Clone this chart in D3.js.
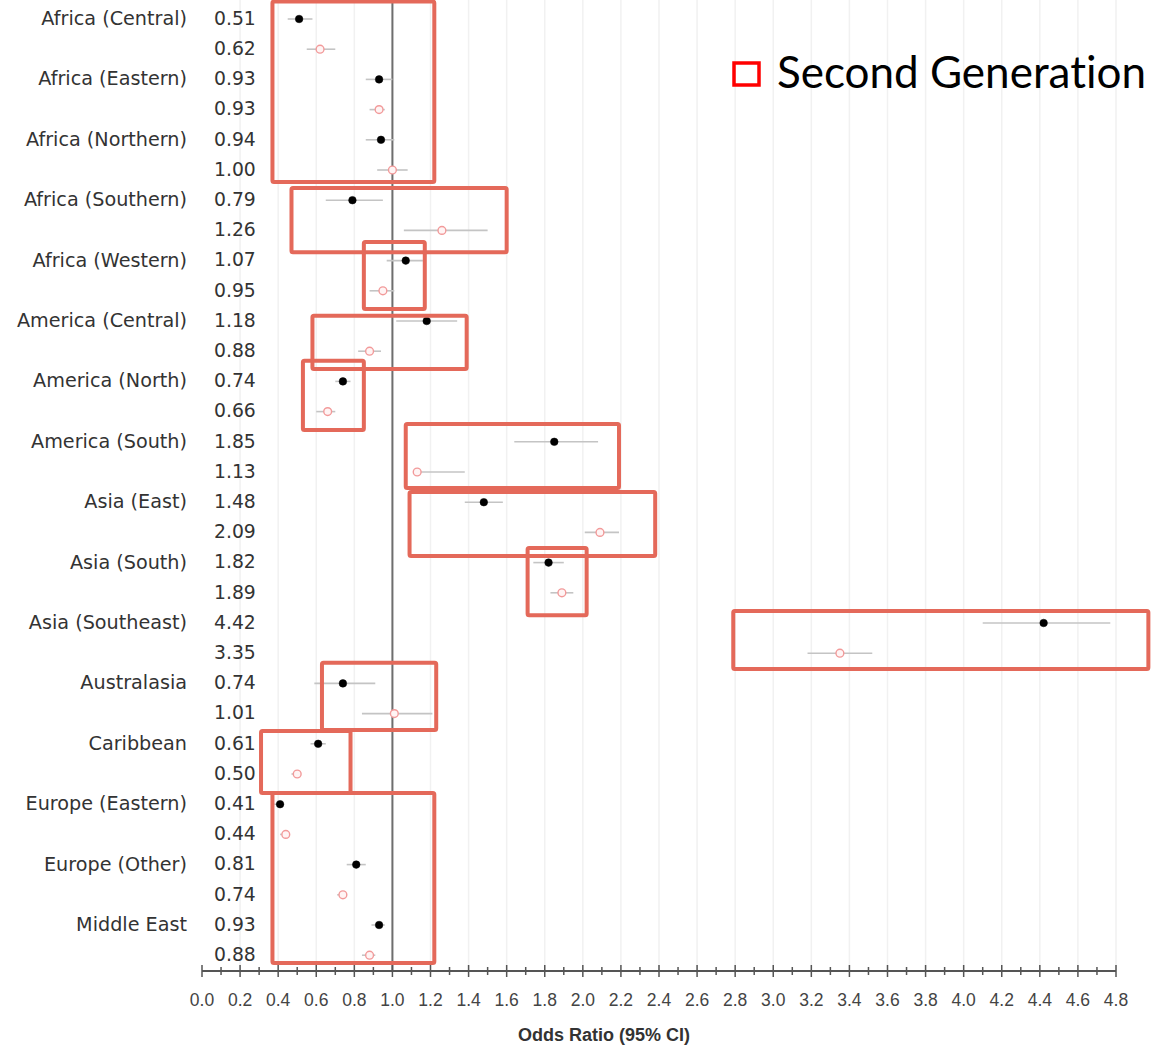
<!DOCTYPE html>
<html>
<head>
<meta charset="utf-8">
<script src="https://cdn.jsdelivr.net/npm/d3@7"></script>
<style>
  html, body { margin: 0; padding: 0; background: #fff; }
  svg { display: block; }
</style>
</head>
<body>
<svg id="chart" width="1165" height="1047"></svg>
<script>
// Regions of origin, each with a first- and second-generation odds ratio
const regions = [
  "Africa (Central)", "Africa (Eastern)", "Africa (Northern)", "Africa (Southern)",
  "Africa (Western)", "America (Central)", "America (North)", "America (South)",
  "Asia (East)", "Asia (South)", "Asia (Southeast)", "Australasia",
  "Caribbean", "Europe (Eastern)", "Europe (Other)", "Middle East"
];

// First generation: odds ratio and 95% CI bounds
const firstOR = [0.51, 0.93, 0.94, 0.79, 1.07, 1.18, 0.74, 1.85, 1.48, 1.82, 4.42, 0.74, 0.61, 0.41, 0.81, 0.93];
const firstLo = [0.45, 0.86, 0.86, 0.65, 0.97, 1.02, 0.70, 1.64, 1.38, 1.74, 4.10, 0.59, 0.57, 0.38, 0.76, 0.89];
const firstHi = [0.58, 1.00, 1.01, 0.95, 1.16, 1.34, 0.78, 2.08, 1.58, 1.90, 4.77, 0.91, 0.65, 0.43, 0.86, 0.96];

// Second generation: odds ratio and 95% CI bounds
const secondOR = [0.62, 0.93, 1.00, 1.26, 0.95, 0.88, 0.66, 1.13, 2.09, 1.89, 3.35, 1.01, 0.50, 0.44, 0.74, 0.88];
const secondLo = [0.55, 0.88, 0.92, 1.06, 0.88, 0.82, 0.60, 1.12, 2.01, 1.83, 3.18, 0.84, 0.47, 0.41, 0.71, 0.84];
const secondHi = [0.70, 0.96, 1.08, 1.50, 1.01, 0.94, 0.70, 1.38, 2.19, 1.95, 3.52, 1.21, 0.52, 0.46, 0.76, 0.91];

// Axis ticks
const tickValues = [0.0, 0.2, 0.4, 0.6, 0.8, 1.0, 1.2, 1.4, 1.6, 1.8, 2.0, 2.2, 2.4,
                    2.6, 2.8, 3.0, 3.2, 3.4, 3.6, 3.8, 4.0, 4.2, 4.4, 4.6, 4.8];
const tickLabels = ["0.0", "0.2", "0.4", "0.6", "0.8", "1.0", "1.2", "1.4", "1.6", "1.8", "2.0", "2.2", "2.4",
                    "2.6", "2.8", "3.0", "3.2", "3.4", "3.6", "3.8", "4.0", "4.2", "4.4", "4.6", "4.8"];
const minorTickValues = [0.1, 0.3, 0.5, 0.7, 0.9, 1.1, 1.3, 1.5, 1.7, 1.9, 2.1, 2.3, 2.5,
                         2.7, 2.9, 3.1, 3.3, 3.5, 3.7, 3.9, 4.1, 4.3, 4.5, 4.7];

// Highlight frames: odds-ratio span and row span (row index, fractional)
const boxLo     = [0.37, 0.47, 0.85, 0.58, 0.53, 1.07, 1.09, 1.71, 2.79, 0.63, 0.31, 0.37];
const boxHi     = [1.22, 1.60, 1.17, 1.39, 0.85, 2.19, 2.38, 2.02, 4.97, 1.23, 0.78, 1.22];
const boxTop    = [-0.58, 5.60, 7.38, 9.83, 11.32, 13.41, 15.66, 17.52, 19.60, 21.32, 23.58, 25.63];
const boxBottom = [5.40, 7.72, 9.60, 11.59, 13.61, 15.53, 17.78, 19.74, 21.52, 23.54, 25.63, 31.26];

const legendLabel = "Second Generation";
const axisTitle = "Odds Ratio (95% CI)";

// Flatten into one row per estimate
const rows = [];
regions.forEach((r, i) => {
  rows.push({ label: r, or: firstOR[i], lo: firstLo[i], hi: firstHi[i], gen: 1, idx: 2 * i });
  rows.push({ label: "", or: secondOR[i], lo: secondLo[i], hi: secondHi[i], gen: 2, idx: 2 * i + 1 });
});

const svg = d3.select("#chart");

const x = d3.scaleLinear().domain([0, 4.8]).range([202, 1116]);
const y = d3.scaleLinear().domain([0, rows.length - 1]).range([19, 955.2]);
const axisY = 971;

// Vertical gridlines
svg.append("g").selectAll("line")
  .data(tickValues.filter(v => v > 0))
  .join("line")
  .attr("x1", d => x(d)).attr("x2", d => x(d))
  .attr("y1", 0).attr("y2", axisY)
  .attr("stroke", "#f1f1f1").attr("stroke-width", 1.5);

// Reference line at OR = 1
svg.append("line")
  .attr("x1", x(1)).attr("x2", x(1))
  .attr("y1", 0).attr("y2", axisY)
  .attr("stroke", "#6e6e6e").attr("stroke-width", 2);

// Confidence interval whiskers
svg.append("g").selectAll("line")
  .data(rows)
  .join("line")
  .attr("x1", d => x(d.lo)).attr("x2", d => x(d.hi))
  .attr("y1", d => y(d.idx)).attr("y2", d => y(d.idx))
  .attr("stroke", "#c4c4c4").attr("stroke-width", 1.6);

// Point estimates
svg.append("g").selectAll("circle")
  .data(rows)
  .join("circle")
  .attr("cx", d => x(d.or)).attr("cy", d => y(d.idx))
  .attr("r", d => d.gen === 1 ? 3.8 : 3.9)
  .attr("fill", d => d.gen === 1 ? "#000" : "#fff4f4")
  .attr("stroke", d => d.gen === 1 ? "#000" : "#f29a9a")
  .attr("stroke-width", d => d.gen === 1 ? 0.5 : 1.4);

// Region labels
svg.append("g").selectAll("text")
  .data(rows.filter(d => d.label))
  .join("text")
  .attr("x", 187).attr("y", d => y(d.idx) - 1)
  .attr("dy", "0.36em")
  .attr("text-anchor", "end")
  .attr("font-family", "DejaVu Sans, sans-serif")
  .attr("font-size", 19.2)
  .attr("fill", "#333")
  .text(d => d.label);

// Value labels
svg.append("g").selectAll("text")
  .data(rows)
  .join("text")
  .attr("x", 214).attr("y", d => y(d.idx) - 1)
  .attr("dy", "0.36em")
  .attr("font-family", "DejaVu Sans, sans-serif")
  .attr("font-size", 18.8)
  .attr("fill", "#333")
  .text(d => d.or.toFixed(2));

// Bottom axis
const axisG = svg.append("g").attr("transform", `translate(0,${axisY})`);
axisG.append("line")
  .attr("x1", x(0)).attr("x2", x(4.8))
  .attr("stroke", "#555").attr("stroke-width", 2);
axisG.append("g").selectAll("line")
  .data(tickValues)
  .join("line")
  .attr("x1", d => x(d)).attr("x2", d => x(d))
  .attr("y1", -6).attr("y2", 6)
  .attr("stroke", "#555").attr("stroke-width", 1.5);
axisG.append("g").selectAll("line")
  .data(minorTickValues)
  .join("line")
  .attr("x1", d => x(d)).attr("x2", d => x(d))
  .attr("y1", -4).attr("y2", 4)
  .attr("stroke", "#555").attr("stroke-width", 1.5);
axisG.append("g").selectAll("text")
  .data(tickValues)
  .join("text")
  .attr("x", d => x(d)).attr("y", 29)
  .attr("dy", "0.36em")
  .attr("text-anchor", "middle")
  .attr("font-family", "Liberation Sans, Arial, sans-serif")
  .attr("font-size", 17.5)
  .attr("fill", "#444")
  .text((d, i) => tickLabels[i]);

svg.append("text")
  .attr("x", 604).attr("y", 1035)
  .attr("dy", "0.36em")
  .attr("text-anchor", "middle")
  .attr("font-family", "Liberation Sans, Arial, sans-serif")
  .attr("font-weight", "bold")
  .attr("font-size", 18)
  .attr("fill", "#333")
  .text(axisTitle);

// Highlight frames
svg.append("g").selectAll("rect")
  .data(boxLo.map((lo, i) => ({ lo, hi: boxHi[i], top: boxTop[i], bottom: boxBottom[i] })))
  .join("rect")
  .attr("x", d => x(d.lo)).attr("width", d => x(d.hi) - x(d.lo))
  .attr("y", d => y(d.top)).attr("height", d => y(d.bottom) - y(d.top))
  .attr("rx", 1.5)
  .attr("fill", "none")
  .attr("stroke", "#e4695a")
  .attr("stroke-width", 4);

// Legend
const legend = svg.append("g");
legend.append("rect")
  .attr("x", 734).attr("y", 63).attr("width", 25).attr("height", 22)
  .attr("fill", "none").attr("stroke", "#ff0000").attr("stroke-width", 3.5);
legend.append("text")
  .attr("x", 777).attr("y", 88)
  .attr("font-family", "Lato, sans-serif")
  .attr("font-size", 44)
  .style("font-variant-ligatures", "none")
  .attr("fill", "#000")
  .text(legendLabel);
</script>
</body>
</html>
